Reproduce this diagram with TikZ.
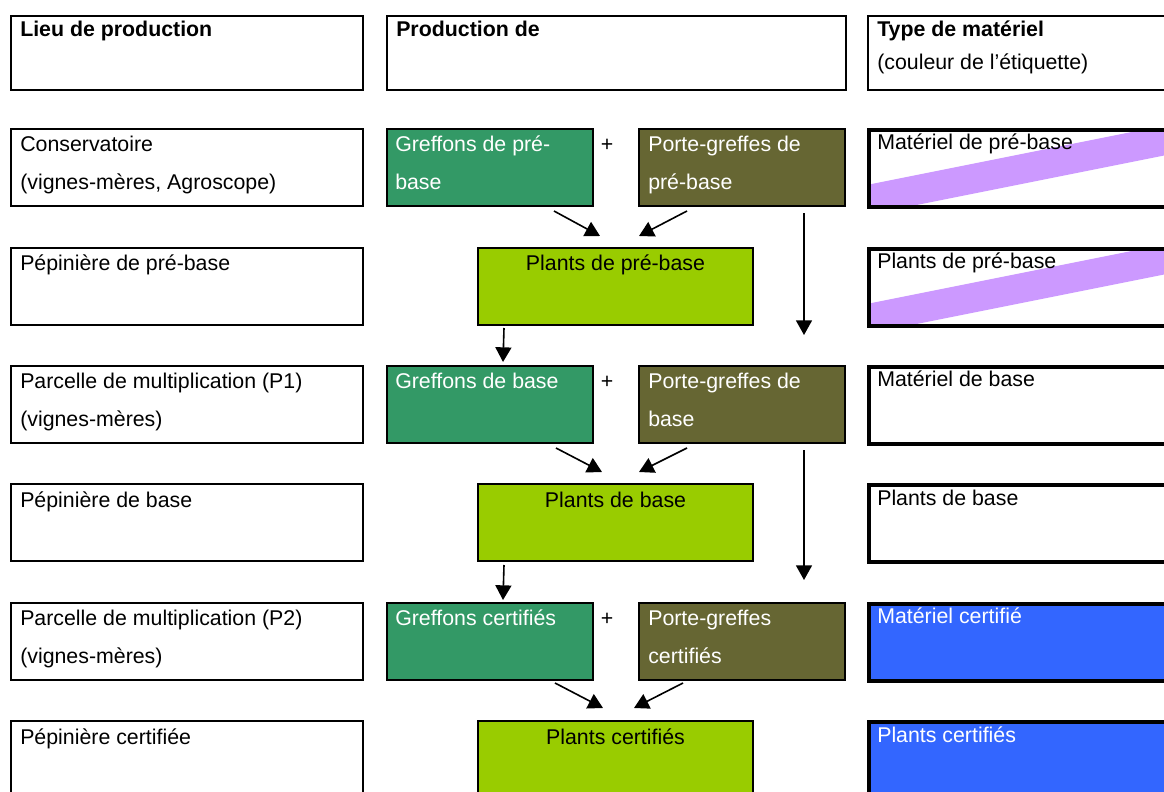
\documentclass[tikz,border=0pt]{standalone}
\usepackage{fontspec}
\setmainfont{Liberation Sans}
\usetikzlibrary{arrows.meta, calc, positioning}
\definecolor{vertgreffon}{HTML}{339966}
\definecolor{olivegreffe}{HTML}{666633}
\definecolor{vertplant}{HTML}{99CC00}
\definecolor{bleucertif}{HTML}{3366FF}
\definecolor{violetprebase}{HTML}{CC99FF}
\tikzstyle{cadre} = [rectangle, draw=black, line width=1.5pt, anchor=north west,
	inner sep=0pt, minimum height=57.75pt]
\tikzstyle{lieu} = [cadre, fill=white, minimum width=264pt]
\tikzstyle{greffon} = [cadre, fill=vertgreffon, minimum width=154.5pt]
\tikzstyle{porte} = [cadre, fill=olivegreffe, minimum width=154.5pt]
\tikzstyle{plant} = [cadre, fill=vertplant, minimum width=206.25pt]
\tikzstyle{etiquette} = [cadre, line width=3pt, fill=white, minimum width=240pt]
\tikzstyle{bande} = [path picture={\fill[violetprebase]
	($(path picture bounding box.south west)+(0,-22)$) -- ++(400,-80)
	-- ++(0,30) -- ++(-400,80) -- cycle;}]
\tikzstyle{txt} = [anchor=base west, align=left, inner sep=0pt,
	font=\fontsize{16}{28.5}\selectfont]
\tikzstyle{fleche} = [-{Triangle[length=11pt, width=12pt]}, line width=1.2pt]

\begin{document}
\begin{tikzpicture}[x=0.75pt, y=-0.75pt]
	\clip (0,0) rectangle (1164,792);

	% en-tetes
	\node (lieu0) [lieu, minimum height=55.875pt] at (10,14.7) {};
	\node (prod0) [lieu, minimum height=55.875pt, minimum width=344.25pt] at (386,14.7) {};
	\node (type0) [lieu, minimum height=55.875pt, minimum width=240pt] at (867,14.7) {};
	\node (tlieu0) [txt] at ($(lieu0.north west)+(10,22)$) {\textbf{Lieu de production}};
	\node (tprod0) [txt] at ($(prod0.north west)+(10,22)$) {\textbf{Production de}};
	% base = derniere ligne
	\node (ttype0) [txt] at ($(type0.north west)+(10,55)$) {\textbf{Type de matériel}\\[-3.75pt](couleur de l’étiquette)};

	% lieux de production
	\node (lieu1) [lieu] at (10,127.5) {};
	\node (lieu2) [lieu] at (10,246.5) {};
	\node (lieu3) [lieu] at (10,364.5) {};
	\node (lieu4) [lieu] at (10,483) {};
	\node (lieu5) [lieu] at (10,601.5) {};
	\node (lieu6) [lieu] at (10,720) {};
	\node (tlieu1) [txt] at ($(lieu1.north west)+(10,62)$) {Conservatoire\\(vignes-mères, Agroscope)};
	\node (tlieu2) [txt] at ($(lieu2.north west)+(10,24)$) {Pépinière de pré-base};
	\node (tlieu3) [txt] at ($(lieu3.north west)+(10,62)$) {Parcelle de multiplication (P1)\\(vignes-mères)};
	\node (tlieu4) [txt] at ($(lieu4.north west)+(10,24)$) {Pépinière de base};
	\node (tlieu5) [txt] at ($(lieu5.north west)+(10,62)$) {Parcelle de multiplication (P2)\\(vignes-mères)};
	\node (tlieu6) [txt] at ($(lieu6.north west)+(10,24)$) {Pépinière certifiée};

	% greffons et porte-greffes
	\node (gref1) [greffon] at (386,127.5) {};
	\node (gref3) [greffon] at (386,364.5) {};
	\node (gref5) [greffon] at (386,601.5) {};
	\node (porte1) [porte] at (638,127.5) {};
	\node (porte3) [porte] at (638,364.5) {};
	\node (porte5) [porte] at (638,601.5) {};
	\node (tgref1) [txt, white] at ($(gref1.north west)+(9,62)$) {Greffons de pré-\\base};
	\node (tgref3) [txt, white] at ($(gref3.north west)+(9,24)$) {Greffons de base};
	\node (tgref5) [txt, white] at ($(gref5.north west)+(9,24)$) {Greffons certifiés};
	\node (tporte1) [txt, white] at ($(porte1.north west)+(10,62)$) {Porte-greffes de\\pré-base};
	\node (tporte3) [txt, white] at ($(porte3.north west)+(10,62)$) {Porte-greffes de\\base};
	\node (tporte5) [txt, white] at ($(porte5.north west)+(10,62)$) {Porte-greffes\\certifiés};
	\node (plus1) [txt, anchor=base] at (607,151.5) {+};
	\node (plus3) [txt, anchor=base] at (607,388.5) {+};
	\node (plus5) [txt, anchor=base] at (607,625.5) {+};

	% plants
	\node (plant2) [plant] at (477,246.5) {};
	\node (plant4) [plant] at (477,483) {};
	\node (plant6) [plant] at (477,720) {};
	\node (tplant2) [txt, anchor=base] at ($(plant2.north)+(0,24)$) {Plants de pré-base};
	\node (tplant4) [txt, anchor=base] at ($(plant4.north)+(0,24)$) {Plants de base};
	\node (tplant6) [txt, anchor=base] at ($(plant6.north)+(0,24)$) {Plants certifiés};

	% etiquettes
	\node (etiq1) [etiquette, bande] at (867,127.5) {};
	\node (etiq2) [etiquette, bande] at (867,246.5) {};
	\node (etiq3) [etiquette] at (867,364.5) {};
	\node (etiq4) [etiquette] at (867,483) {};
	\node (etiq5) [etiquette, fill=bleucertif] at (867,601.5) {};
	\node (etiq6) [etiquette, fill=bleucertif] at (867,720) {};
	\node (tetiq1) [txt] at ($(etiq1.north west)+(10,22)$) {Matériel de pré-base};
	\node (tetiq2) [txt] at ($(etiq2.north west)+(10,22)$) {Plants de pré-base};
	\node (tetiq3) [txt] at ($(etiq3.north west)+(10,22)$) {Matériel de base};
	\node (tetiq4) [txt] at ($(etiq4.north west)+(10,22)$) {Plants de base};
	\node (tetiq5) [txt, white] at ($(etiq5.north west)+(10,22)$) {Matériel certifié};
	\node (tetiq6) [txt, white] at ($(etiq6.north west)+(10,22)$) {Plants certifiés};

	% fleches
	\coordinate (g1out) at (554,211);
	\coordinate (p1out) at (687,211);
	\coordinate (p1bas) at (804,213);
	\coordinate (pl2in) at (600,236);
	\coordinate (pl2inb) at (639,236);
	\coordinate (pl2out) at (504,328);
	\coordinate (g3in) at (503,362);
	\coordinate (p3in) at (804,335);
	\draw [fleche] (g1out) -- (pl2in);
	\draw [fleche] (p1out) -- (pl2inb);
	\draw [fleche] (p1bas) -- (p3in);
	\draw [fleche] (pl2out) -- (g3in);

	\coordinate (g3out) at (556,448);
	\coordinate (p3out) at (687,448);
	\coordinate (p3bas) at (804,450);
	\coordinate (pl4in) at (602,472);
	\coordinate (pl4inb) at (639,472);
	\coordinate (pl4out) at (504,565);
	\coordinate (g5in) at (503,600);
	\coordinate (p5in) at (804,580);
	\draw [fleche] (g3out) -- (pl4in);
	\draw [fleche] (p3out) -- (pl4inb);
	\draw [fleche] (p3bas) -- (p5in);
	\draw [fleche] (pl4out) -- (g5in);

	\coordinate (g5out) at (555,683);
	\coordinate (p5out) at (683,683);
	\coordinate (pl6in) at (603,708);
	\coordinate (pl6inb) at (634,708);
	\draw [fleche] (g5out) -- (pl6in);
	\draw [fleche] (p5out) -- (pl6inb);

\end{tikzpicture}
\end{document}
